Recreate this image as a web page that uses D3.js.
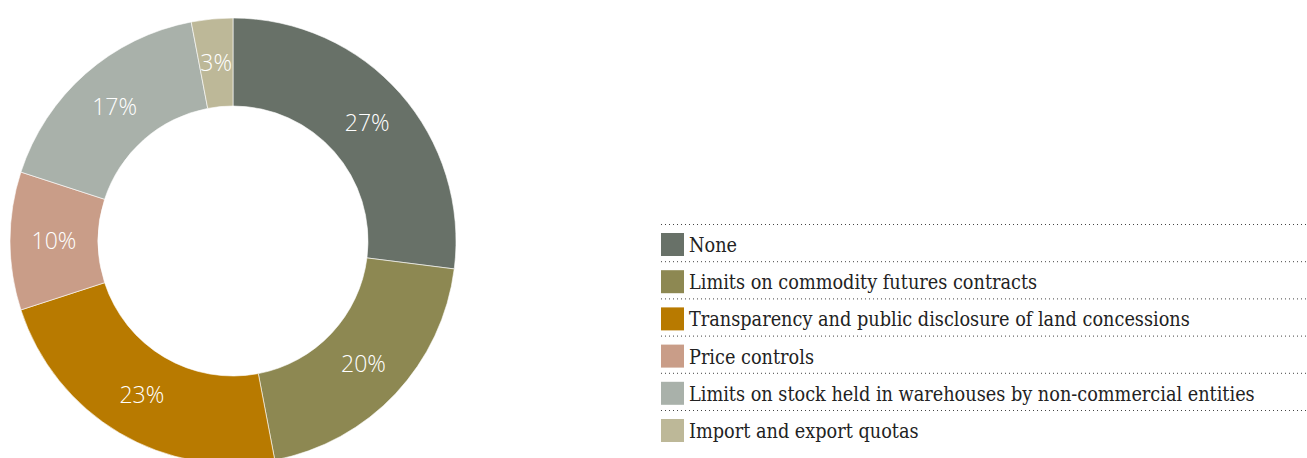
<!DOCTYPE html>
<html>
<head>
<meta charset="utf-8">
<script src="https://cdn.jsdelivr.net/npm/d3@7"></script>
<style>
  html, body { margin: 0; padding: 0; background: #fff; }
  svg { display: block; }
</style>
</head>
<body>
<svg id="chart" width="1307" height="458"></svg>
<script>
// Share of responses by preferred policy measure
const categories = [
  "None",
  "Limits on commodity futures contracts",
  "Transparency and public disclosure of land concessions",
  "Price controls",
  "Limits on stock held in warehouses by non-commercial entities",
  "Import and export quotas"
];
const values = [27, 20, 23, 10, 17, 3];
const colors = ["#687168", "#8d8852", "#b87a00", "#c99d88", "#a9b1aa", "#bdb898"];

const data = categories.map((c, i) => ({ name: c, value: values[i], color: colors[i] }));

const svg = d3.select("#chart");
const width = 1307;

// Donut
const cx = 233, cy = 241;
const outerR = 223, innerR = 135;

const pie = d3.pie().value(d => d.value).sort(null);
const arc = d3.arc().innerRadius(innerR).outerRadius(outerR);
const labelArc = d3.arc().innerRadius(179).outerRadius(179);

const g = svg.append("g").attr("transform", `translate(${cx},${cy})`);
const arcs = pie(data);

g.selectAll("path.slice")
  .data(arcs)
  .join("path")
  .attr("class", "slice")
  .attr("d", arc)
  .attr("fill", d => d.data.color)
  .attr("stroke", "#ffffff")
  .attr("stroke-width", 0.6);

g.selectAll("text.pct")
  .data(arcs)
  .join("text")
  .attr("class", "pct")
  .attr("transform", d => `translate(${labelArc.centroid(d)})`)
  .attr("text-anchor", "middle")
  .attr("dy", "0.36em")
  .attr("fill", "#ffffff")
  .attr("font-family", "'Open Sans', 'Noto Sans', sans-serif")
  .attr("font-weight", 300)
  .attr("font-size", 23)
  .text(d => d.data.value + "%");

// Legend
const legX = 661, legTop = 224, rowH = 37.2;
const textWidth = 566; // width of the longest legend entry
const leg = svg.append("g");

const rows = leg.selectAll("g.row")
  .data(data)
  .join("g")
  .attr("class", "row")
  .attr("transform", (d, i) => `translate(${legX},${legTop + i * rowH})`);

rows.append("line")
  .attr("x1", 0)
  .attr("x2", width - legX)
  .attr("y1", 0.5)
  .attr("y2", 0.5)
  .attr("stroke", "#444")
  .attr("stroke-width", 1)
  .attr("stroke-dasharray", "1 3");

rows.append("rect")
  .attr("x", 0)
  .attr("y", 9)
  .attr("width", 23)
  .attr("height", 23)
  .attr("fill", d => d.color);

const labels = rows.append("text")
  .attr("x", 28)
  .attr("y", 28)
  .attr("fill", "#222")
  .attr("font-family", "'DejaVu Serif', serif")
  .style("font-stretch", "condensed")
  .attr("font-size", 19)
  .text(d => d.name);

// Fit the font size so the longest entry spans the legend text width
let longest = 0;
labels.each(function () { longest = Math.max(longest, this.getComputedTextLength()); });
if (longest > 0) labels.attr("font-size", 19 * textWidth / longest);
</script>
</body>
</html>
